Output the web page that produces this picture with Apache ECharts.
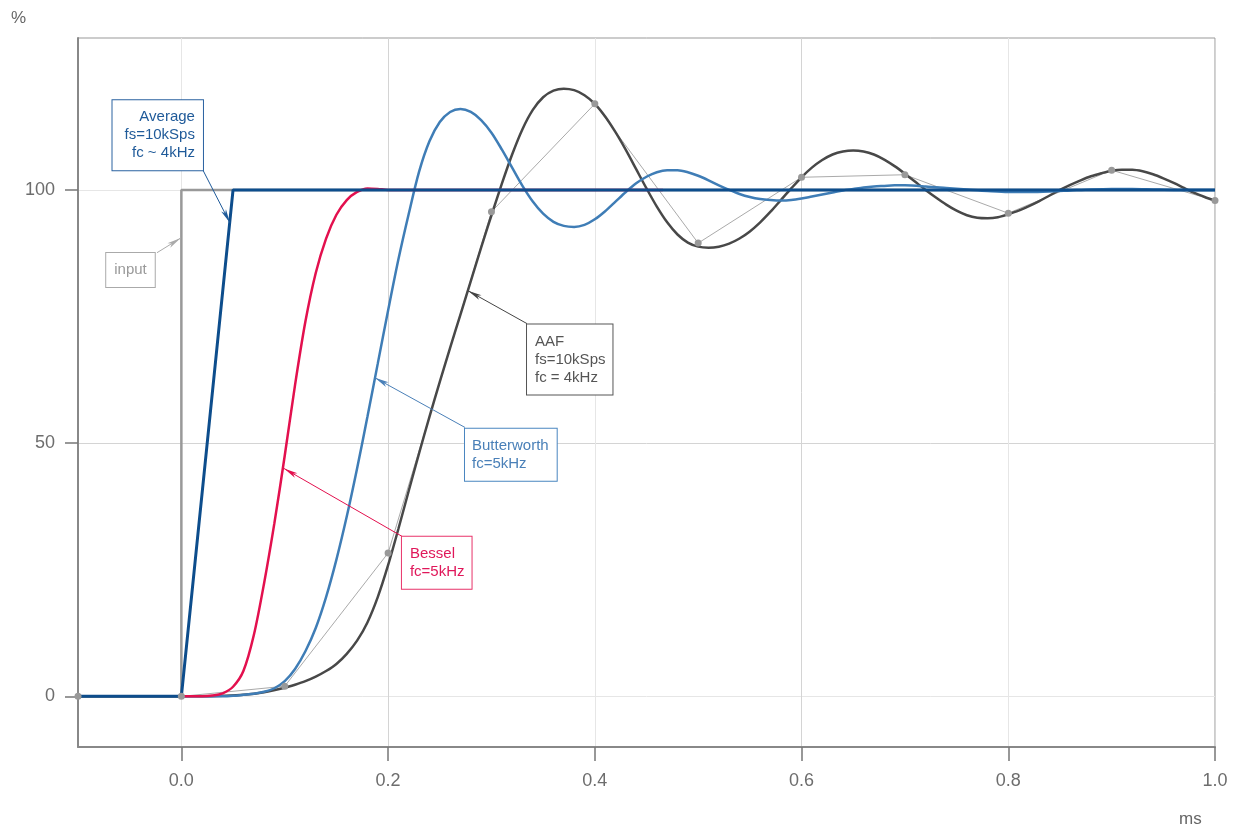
<!DOCTYPE html>
<html>
<head>
<meta charset="utf-8">
<script src="https://cdn.jsdelivr.net/npm/echarts@6/dist/echarts.min.js"></script>
<style>
  html, body { margin: 0; padding: 0; background: #fff; }
  #main { width: 1241px; height: 832px; }
</style>
</head>
<body>
<div id="main"></div>
<script>
// step input and the averaging filter (ms, %)
var inputT = [-0.1, 0, 0, 1.0];
var inputV = [0, 0, 100, 100];
var avgT = [-0.1, 0, 0.05, 1.0];
var avgV = [0, 0, 100, 100];

// anti-aliasing filter, continuous response
var aafT = [-0.1, 0, 0.02, 0.04, 0.06, 0.08,
  0.10, 0.11, 0.12, 0.13, 0.14, 0.15, 0.16, 0.17, 0.18, 0.19,
  0.20, 0.21, 0.22, 0.23, 0.24, 0.25, 0.26, 0.27, 0.28, 0.29,
  0.30, 0.31, 0.32, 0.33, 0.34, 0.35, 0.36, 0.37, 0.38, 0.39,
  0.40, 0.41, 0.42, 0.43, 0.44, 0.45, 0.46, 0.47, 0.48, 0.49,
  0.50, 0.51, 0.52, 0.53, 0.54, 0.55, 0.56, 0.57, 0.58, 0.59,
  0.60, 0.61, 0.62, 0.63, 0.64, 0.65, 0.66, 0.67, 0.68, 0.69,
  0.70, 0.71, 0.72, 0.73, 0.74, 0.75, 0.76, 0.77, 0.78, 0.79,
  0.80, 0.81, 0.82, 0.83, 0.84, 0.85, 0.86, 0.87, 0.88, 0.89,
  0.90, 0.91, 0.92, 0.93, 0.94, 0.95, 0.96, 0.97, 0.98, 0.99, 1.00];
var aafV = [0, 0, 0, 0.1, 0.3, 0.8,
  1.7, 2.3, 3.0, 3.9, 5.0, 6.4, 8.4, 11.0, 14.6, 19.6,
  25.9, 33.1, 40.6, 48.0, 55.2, 62.1, 68.8, 75.4, 82.0, 88.6,
  95.0, 101.2, 107.0, 112.0, 115.8, 118.3, 119.6, 120.0, 119.7, 118.7,
  117.0, 114.5, 111.4, 107.9, 104.1, 100.3, 96.7, 93.6, 91.2, 89.6,
  88.8, 88.6, 88.8, 89.4, 90.4, 91.8, 93.6, 95.7, 98.0, 100.3,
  102.5, 104.4, 105.9, 107.0, 107.6, 107.8, 107.6, 107.0, 106.0, 104.7,
  103.2, 101.6, 100.0, 98.5, 97.1, 95.9, 95.0, 94.5, 94.4, 94.6,
  95.2, 95.9, 96.8, 97.8, 98.9, 100.0, 101.0, 101.9, 102.7, 103.3,
  103.8, 104.0, 104.0, 103.7, 103.1, 102.3, 101.4, 100.4, 99.4, 98.6, 97.9];

// AAF sampled at 10 kSps
var sampleT = [-0.1, 0, 0.1, 0.2, 0.3, 0.4, 0.5, 0.6, 0.7, 0.8, 0.9, 1.0];
var sampleV = [0, 0, 2, 28.3, 95.7, 117, 89.5, 102.5, 103, 95.4, 103.9, 97.9];

// Butterworth fc=5kHz
var butterT = [0, 0.01, 0.02, 0.03, 0.04, 0.05, 0.06, 0.07, 0.08, 0.09,
  0.10, 0.11, 0.12, 0.13, 0.14, 0.15, 0.16, 0.17, 0.18, 0.19,
  0.20, 0.21, 0.22, 0.23, 0.24, 0.25, 0.26, 0.27, 0.28, 0.29,
  0.30, 0.31, 0.32, 0.33, 0.34, 0.35, 0.36, 0.37, 0.38, 0.39,
  0.40, 0.41, 0.42, 0.43, 0.44, 0.45, 0.46, 0.47, 0.48, 0.49,
  0.50, 0.51, 0.52, 0.53, 0.54, 0.55, 0.56, 0.57, 0.58, 0.59,
  0.60, 0.61, 0.62, 0.63, 0.64, 0.65, 0.66, 0.67, 0.68, 0.69,
  0.70, 0.72, 0.74, 0.76, 0.78, 0.80, 0.82, 0.84, 0.86, 0.88,
  0.90, 0.92, 0.94, 0.96, 0.98, 1.00];
var butterV = [0, 0, 0, 0, 0, 0.1, 0.3, 0.5, 0.9, 1.6,
  3.0, 5.4, 8.9, 13.5, 19.6, 27.0, 35.5, 45.0, 55.2, 65.7,
  76.2, 86.3, 95.3, 103.6, 109.6, 113.4, 115.4, 116.0, 115.4, 113.8,
  111.3, 108.0, 104.4, 100.8, 97.7, 95.3, 93.7, 92.9, 92.7, 93.1,
  94.2, 95.8, 97.7, 99.6, 101.3, 102.6, 103.5, 103.9, 103.9, 103.5,
  102.8, 101.9, 100.9, 100.0, 99.2, 98.6, 98.2, 98.0, 97.9, 98.0,
  98.3, 98.7, 99.1, 99.5, 99.9, 100.2, 100.5, 100.7, 100.8, 100.9,
  100.9, 100.7, 100.4, 100.1, 99.8, 99.6, 99.6, 99.7, 99.9, 100.1,
  100.2, 100.2, 100.1, 100, 100, 100];

// Bessel fc=5kHz
var besselT = [0, 0.01, 0.02, 0.03, 0.04, 0.05, 0.06, 0.07, 0.08, 0.09, 0.10,
  0.11, 0.12, 0.13, 0.14, 0.15, 0.16, 0.17, 0.18, 0.19, 0.20, 0.466];
var besselV = [0, 0, 0, 0.15, 0.6, 1.9, 5.0, 12.0, 22.3, 34.2, 47.5,
  61.5, 74.0, 83.6, 90.4, 95.1, 98.0, 99.6, 100.3, 100.2, 100, 100];

var xLabels = [0, 0.2, 0.4, 0.6, 0.8, 1.0];
var yLabels = [0, 50, 100];

function pairs(t, v) {
  return t.map(function (x, i) { return [x, v[i]]; });
}

// a text box anchored at a data point
function note(x, y, text, color, border, align, pad) {
  return {
    coord: [x, y],
    symbol: 'rect',
    symbolSize: 1,
    itemStyle: { color: 'rgba(0,0,0,0)' },
    label: {
      show: true,
      position: 'inside',
      formatter: text,
      color: color,
      fontSize: 15,
      lineHeight: 18,
      fontFamily: 'Liberation Sans',
      align: align,
      verticalAlign: 'middle',
      backgroundColor: '#fff',
      borderColor: border,
      borderWidth: 1,
      padding: pad
    }
  };
}

function arrow(x1, y1, x2, y2, color) {
  return {
    silent: true,
    symbol: ['none', 'arrow'],
    symbolSize: [4, 14],
    label: { show: false },
    lineStyle: { color: color, width: 1, type: 'solid' },
    emphasis: { disabled: true },
    data: [[{ coord: [x1, y1] }, { coord: [x2, y2] }]]
  };
}

var myChart = echarts.init(document.getElementById('main'));

myChart.setOption({
  animation: false,
  backgroundColor: '#fff',
  textStyle: { fontFamily: 'Liberation Sans' },
  grid: {
    left: 78, right: 26, top: 38, bottom: 85,
    show: true, borderColor: '#999', borderWidth: 1
  },
  graphic: [
    { type: 'text', left: 11, top: 10, style: { text: '%', fontSize: 17, fill: '#666', fontFamily: 'Liberation Sans' } },
    { type: 'text', left: 1179, top: 811, style: { text: 'ms', fontSize: 17, fill: '#666', fontFamily: 'Liberation Sans' } }
  ],
  xAxis: {
    type: 'value',
    min: -0.1,
    max: 1.0,
    interval: 0.1,
    axisLine: { show: true, onZero: false, lineStyle: { color: '#888', width: 2 } },
    axisTick: { show: true, customValues: xLabels, length: 14, lineStyle: { color: '#777', width: 1.5 } },
    axisLabel: {
      customValues: xLabels,
      formatter: function (v) { return v.toFixed(1); },
      fontSize: 18, color: '#6d6d6d', margin: 25
    },
    splitLine: { show: true, lineStyle: { color: ['#e6e6e6', '#d4d4d4'], width: 1 } }
  },
  yAxis: {
    type: 'value',
    min: -10,
    max: 130,
    interval: 10,
    axisLine: { show: true, onZero: false, lineStyle: { color: '#888', width: 2 } },
    axisTick: { show: true, customValues: yLabels, length: 13, lineStyle: { color: '#777', width: 1.5 } },
    axisLabel: { customValues: yLabels, fontSize: 18, color: '#6d6d6d', margin: 23 },
    splitLine: { show: true, lineStyle: { color: ['#e6e6e6', '#d4d4d4', '#e6e6e6', '#e6e6e6', '#e6e6e6'], width: 1 } }
  },
  series: [
    {
      name: 'input',
      type: 'line',
      data: pairs(inputT, inputV),
      showSymbol: false,
      lineStyle: { color: '#999', width: 2.5 },
      markPoint: { silent: true, data: [note(-0.0727, 84.2, 'input', '#999', '#aaa', 'left', [8, 8])] },
      markLine: arrow(-0.0236, 87.6, -0.0006, 90.5, '#aaa')
    },
    {
      name: 'AAF sampled',
      type: 'line',
      data: pairs(sampleT, sampleV),
      symbol: 'circle',
      symbolSize: 7,
      itemStyle: { color: '#999' },
      lineStyle: { color: '#aaa', width: 1 }
    },
    {
      name: 'AAF',
      type: 'line',
      data: pairs(aafT, aafV),
      showSymbol: false,
      smooth: 0.3,
      lineStyle: { color: '#484848', width: 2.5 },
      markPoint: { silent: true, data: [note(0.3344, 66.5, 'AAF\nfs=10kSps\nfc = 4kHz', '#555', '#555', 'left', [8, 7, 8, 8])] },
      markLine: arrow(0.3344, 73.6, 0.2773, 80.1, '#444')
    },
    {
      name: 'Butterworth',
      type: 'line',
      data: pairs(butterT, butterV),
      showSymbol: false,
      smooth: 0.3,
      lineStyle: { color: '#3f7db6', width: 2.5 },
      markPoint: { silent: true, data: [note(0.2744, 47.7, 'Butterworth\nfc=5kHz', '#4a80b8', '#4a86c0', 'left', [8, 8, 8, 7])] },
      markLine: arrow(0.2744, 53.1, 0.1873, 62.9, '#4a80b8')
    },
    {
      name: 'Bessel',
      type: 'line',
      data: pairs(besselT, besselV),
      showSymbol: false,
      smooth: 0.3,
      lineStyle: { color: '#e3104e', width: 2.5 },
      markPoint: { silent: true, data: [note(0.2134, 26.4, 'Bessel\nfc=5kHz', '#e0175a', '#e8336a', 'left', [8, 7, 8, 8])] },
      markLine: arrow(0.2134, 31.6, 0.0993, 45.0, '#e3104e')
    },
    {
      name: 'Average',
      type: 'line',
      data: pairs(avgT, avgV),
      showSymbol: false,
      lineStyle: { color: '#0d4d8c', width: 3 },
      markPoint: { silent: true, data: [note(0.0209, 110.8, 'Average\nfs=10kSps\nfc ~ 4kHz', '#1f5a99', '#2a62a0', 'right', [8, 8, 8, 12])] },
      markLine: arrow(0.0209, 103.9, 0.047, 93.5, '#1f5a99')
    }
  ]
});
</script>
</body>
</html>
